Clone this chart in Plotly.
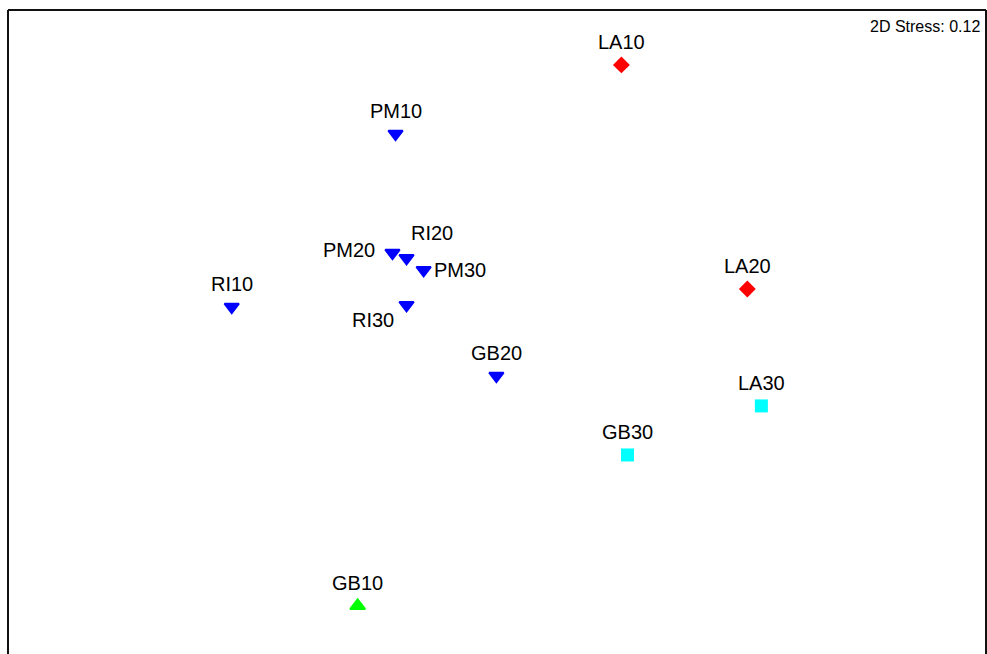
import plotly.graph_objects as go

# nMDS ordination of sites (2D configuration)
samples = ["LA10", "LA20", "LA30", "GB10", "GB20", "GB30",
           "PM10", "PM20", "PM30", "RI10", "RI20", "RI30"]
mds1 = [0.407, 0.819, 0.865, -0.456, -0.002, 0.427,
        -0.332, -0.342, -0.240, -0.868, -0.296, -0.296]
mds2 = [0.871, 0.140, -0.241, -0.893, -0.143, -0.401,
        0.646, 0.258, 0.202, 0.082, 0.241, 0.088]
groups = ["A", "A", "B", "C", "D", "B",
          "D", "D", "D", "D", "D", "D"]
stress_label = "2D Stress: 0.12"

group_style = {
    "A": dict(symbol="diamond", color="#FF0000", size=13, lw=0),
    "B": dict(symbol="square", color="#00FFFF", size=13, lw=0),
    "C": dict(symbol="triangle-up", color="#00FF00", size=13, lw=2),
    "D": dict(symbol="triangle-down", color="#0000FF", size=12.5, lw=2),
}

# label offsets (pixels) relative to each point
label_offsets = {
    "PM20": (-43, 3),
    "PM30": (36, 0),
    "RI20": (25, 25),
    "RI30": (-34, -15),
}
default_offset = (0, 23)

fig = go.Figure()
for g, st in group_style.items():
    idx = [i for i, gg in enumerate(groups) if gg == g]
    fig.add_trace(go.Scatter(
        x=[mds1[i] for i in idx],
        y=[mds2[i] for i in idx],
        mode="markers",
        marker=dict(symbol=st["symbol"], color=st["color"], size=st["size"],
                    line=dict(width=st["lw"], color=st["color"])),
        showlegend=False,
        hoverinfo="skip",
    ))

for name, x, y in zip(samples, mds1, mds2):
    dx, dy = label_offsets.get(name, default_offset)
    fig.add_annotation(x=x, y=y, xref="x", yref="y", text=name,
                       showarrow=False, xshift=dx, yshift=dy,
                       font=dict(family="Liberation Sans, Arial", size=20,
                                 color="black"))

fig.add_annotation(x=1, y=1, xref="paper", yref="paper", text=stress_label,
                   showarrow=False, xanchor="right", yanchor="top",
                   xshift=-4, yshift=-6,
                   font=dict(family="Liberation Sans, Arial", size=16,
                             color="black"))

# frame on top, left and right
frame = dict(type="line", xref="paper", yref="paper", line=dict(color="#111", width=2))
fig.add_shape(x0=0, x1=1, y0=1, y1=1, **frame)
fig.add_shape(x0=0, x1=0, y0=0, y1=1, **frame)
fig.add_shape(x0=1, x1=1, y0=0, y1=1, **frame)

fig.update_xaxes(range=[-1.6, 1.6], visible=False, fixedrange=True)
fig.update_yaxes(range=[-1.05, 1.05], visible=False, fixedrange=True)
fig.update_layout(
    width=987, height=654,
    margin=dict(l=8, r=1, t=10, b=0),
    paper_bgcolor="white", plot_bgcolor="white",
)
fig.write_html("out.html")
